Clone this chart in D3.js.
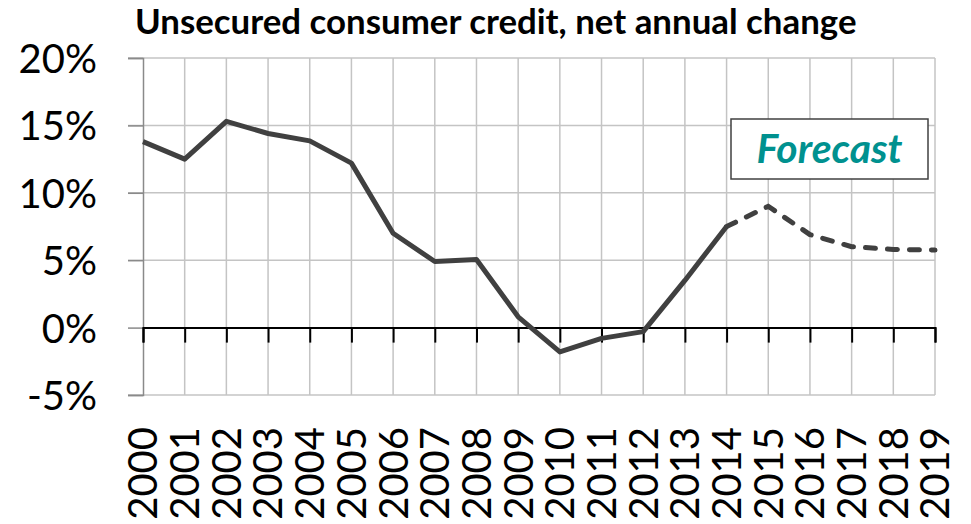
<!DOCTYPE html>
<html>
<head>
<meta charset="utf-8">
<script src="https://cdn.jsdelivr.net/npm/d3@7"></script>
<style>
  body { margin: 0; background: #fff; }
  svg { display: block; font-family: Lato, "Open Sans", sans-serif; }
</style>
</head>
<body>
<div id="chart"></div>
<script>
// chart values
var years = ["2000","2001","2002","2003","2004","2005","2006","2007","2008","2009",
             "2010","2011","2012","2013","2014","2015","2016","2017","2018","2019"];
var change = [13.8, 12.5, 15.3, 14.4, 13.85, 12.2, 7.0, 4.9, 5.05, 0.8,
              -1.8, -0.8, -0.3, 3.5, 7.5, 9.0, 6.9, 6.0, 5.8, 5.75];
var yTicks = [-5, 0, 5, 10, 15, 20];
var forecastFrom = "2014";
var title = "Unsecured consumer credit, net annual change";
var boxLabel = "Forecast";

var W = 971, H = 524;
var margin = {top: 58, right: 36, bottom: 129, left: 143},
    width = W - margin.left - margin.right,
    height = H - margin.top - margin.bottom;

var svg = d3.select("#chart").append("svg")
    .attr("width", W)
    .attr("height", H);

var g = svg.append("g")
    .attr("transform", "translate(" + margin.left + "," + margin.top + ")");

var x = d3.scalePoint().domain(years).range([0, width]);
var y = d3.scaleLinear().domain([-5, 20]).range([height, 0]);

// fit text to a width, keeps the picture's proportions whatever font we get
function fit(sel, target) {
  var fs = parseFloat(sel.attr("font-size"));
  var w = sel.node().getComputedTextLength();
  sel.attr("font-size", (fs * target / w).toFixed(2));
}

// gridlines
g.append("g").selectAll("line.v")
  .data(years.slice(1))
  .enter().append("line")
    .attr("class", "v")
    .attr("x1", d => x(d)).attr("x2", d => x(d))
    .attr("y1", 0).attr("y2", height)
    .attr("stroke", "#c4c4c4").attr("stroke-width", 1.5);

g.append("g").selectAll("line.h")
  .data(yTicks.filter(d => d !== 0))
  .enter().append("line")
    .attr("class", "h")
    .attr("x1", -15).attr("x2", width)
    .attr("y1", d => y(d)).attr("y2", d => y(d))
    .attr("stroke", "#c4c4c4").attr("stroke-width", 1.5);

// y axis
var yAxis = g.append("g")
  .call(d3.axisLeft(y).tickValues(yTicks).tickSize(15).tickFormat(d => d + "%"));
yAxis.select(".domain").attr("stroke", "#8a8a8a").attr("stroke-width", 1.5);
yAxis.selectAll(".tick line").attr("stroke", "#8a8a8a").attr("stroke-width", 1.5);
yAxis.selectAll(".tick text")
  .attr("x", -46)
  .attr("dy", "0.36em")
  .attr("font-size", 40)
  .attr("font-family", "Lato")
  .attr("fill", "#000");

// zero line with downward ticks
var xAxis = g.append("g")
  .attr("transform", "translate(0," + y(0) + ")")
  .call(d3.axisBottom(x).tickSize(15).tickFormat(""));
xAxis.select(".domain").attr("stroke", "#000").attr("stroke-width", 2);
xAxis.selectAll(".tick line").attr("stroke", "#000").attr("stroke-width", 2);

// year labels
g.append("g").selectAll("text.yr")
  .data(years)
  .enter().append("text")
    .attr("class", "yr")
    .attr("transform", d => "translate(" + x(d) + "," + (height + 32) + ") rotate(-90)")
    .attr("text-anchor", "end")
    .attr("dy", "0.36em")
    .attr("font-size", 40)
    .attr("fill", "#000")
    .text(d => d);

// series
var pts = years.map((d, i) => ({year: d, v: change[i]}));
var k = years.indexOf(forecastFrom);
var line = d3.line().x(d => x(d.year)).y(d => y(d.v));

g.append("path")
  .datum(pts.slice(0, k + 1))
  .attr("fill", "none")
  .attr("stroke", "#404040")
  .attr("stroke-width", 5)
  .attr("stroke-linejoin", "round")
  .attr("d", line);

g.append("path")
  .datum(pts.slice(k))
  .attr("fill", "none")
  .attr("stroke", "#404040")
  .attr("stroke-width", 5)
  .attr("stroke-linecap", "round")
  .attr("stroke-dasharray", "10,12")
  .attr("d", line);

// forecast box
var bx = svg.append("g").attr("transform", "translate(731,119)");
bx.append("rect")
  .attr("width", 197).attr("height", 60)
  .attr("fill", "#fff")
  .attr("stroke", "#404040").attr("stroke-width", 1.5);
var ft = bx.append("text")
  .attr("x", 98.5).attr("y", 44)
  .attr("text-anchor", "middle")
  .attr("font-size", 36)
  .attr("font-weight", "bold")
  .attr("font-style", "italic")
  .attr("fill", "#00918f")
  .text(boxLabel);
fit(ft, 146);

// title
var tt = svg.append("text")
  .attr("x", 135).attr("y", 34)
  .attr("font-size", 30)
  .attr("font-weight", "bold")
  .attr("fill", "#000")
  .text(title);
fit(tt, 722);
</script>
</body>
</html>
